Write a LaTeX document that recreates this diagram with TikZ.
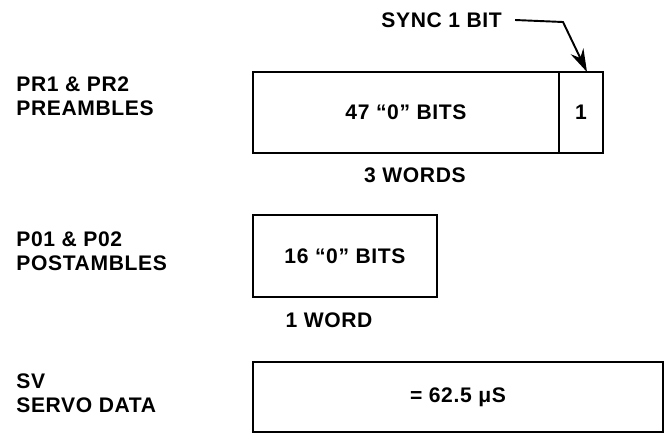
\documentclass[tikz,border=0pt]{standalone}
\usepackage{fontspec}
\setmainfont[LetterSpace=3]{Liberation Sans}
\usetikzlibrary{arrows.meta}

\begin{document}
\begin{tikzpicture}[
  x=0.02cm, y=-0.02cm,
  font=\fontsize{12}{13.5}\selectfont\bfseries,
  bitbox/.style={rectangle, draw=black, line width=1.6pt, inner sep=0pt,
                 outer sep=0pt, minimum width=#1},
  fieldlbl/.style={anchor=west, align=left, inner sep=0pt},
]
\useasboundingbox (0,0) rectangle (666,443);

% ===== PR1 & PR2 preambles =====
\node (prelbl) [fieldlbl] at (16,96) {PR1 \& PR2\\PREAMBLES};
\node (zeros) [bitbox=6.12cm, minimum height=1.62cm] at (406,112.5) {47 ``0'' BITS};
\node (sync) [bitbox=0.88cm, minimum height=1.62cm, anchor=west] at (zeros.east) {1};
\node (prewords) at (415,175) {3 WORDS};

% sync bit callout
\node (synclbl) [anchor=east] at (508,20) {SYNC 1 BIT};
\coordinate (bend) at (563,22);
\coordinate (tip) at (587,72);
\draw[line width=1.1pt, -{Stealth[length=4.6mm,width=2.8mm]}]
  ([xshift=4pt]synclbl.east) -- (bend) -- (tip);

% ===== P01 & P02 postambles =====
\node (postlbl) [fieldlbl] at (16,251) {P01 \& P02\\POSTAMBLES};
\node (post) [bitbox=3.68cm, minimum height=1.64cm] at (345,256) {16 ``0'' BITS};
\node (postword) at (329,320) {1 WORD};

% ===== SV servo data =====
\node (svlbl) [fieldlbl] at (16,393) {SV\\SERVO DATA};
\node (servo) [bitbox=8.2cm, minimum height=1.4cm] at (458,397) {= 62.5 μS};
\end{tikzpicture}
\end{document}
